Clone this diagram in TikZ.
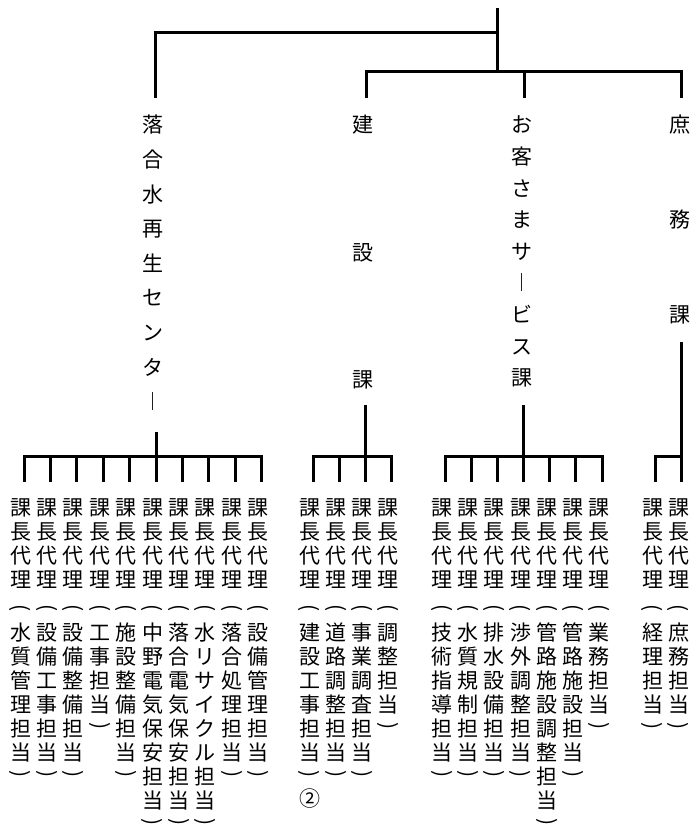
\documentclass[tikz,border=0pt]{standalone}
\usepackage{fontspec}
\newfontfamily\jp{Noto Sans CJK JP}
% #1 name, #2 x, #3 number of characters in the bracket, #4 characters
\newcommand\mkcol[4]{%
  \foreach \ch [count=\k from 0] in {課,長,代,理}
    \node[jc] (#1a\k) at ({#2},{508+24*\k}) {\ch};
  \node[jpar, rotate=-90] (#1p) at ({#2},608) {(};
  \foreach \ch [count=\k from 0] in {#4}
    \node[jc] (#1b\k) at ({#2},{633+24*\k}) {\ch};
  \node[jpar, rotate=-90] (#1q) at ({#2},{630+24*#3}) {)};
}
\newcommand\mklabel[5]{%
  \foreach \ch [count=\k from 0] in {#5}
    \node[jc] (#1\k) at ({#2},{#3+#4*\k}) {\ch};
}
\begin{document}
\begin{tikzpicture}[x=1pt,y=-1pt,
  ln/.style={line width=3pt, line cap=butt, line join=miter},
  jc/.style={font=\jp\fontsize{21}{24}\selectfont, inner sep=0pt,
    text height=18.48pt, text depth=2.52pt},
  jpar/.style={font=\jp\fontsize{21}{24}\selectfont, inner sep=0pt}]
\useasboundingbox (0,0) rectangle (696,832);

% ---------- top level labels ----------
\mklabel{dA}{153}{125}{34.6}{落,合,水,再,生,セ,ン,タ,︱}
\mklabel{dB}{363}{125}{127.5}{建,設,課}
\mklabel{dC}{522}{125}{31.6}{お,客,さ,ま,サ,︱,ビ,ス,課}
\mklabel{dD}{680}{125}{95}{庶,務,課}

% ---------- top level connectors ----------
\coordinate (root) at (497,8);
\coordinate (rA) at (497,33);
\coordinate (rB) at (497,72);
\coordinate (tA) at (155,98);
\coordinate (tB) at (366,98);
\coordinate (tC) at (524,98);
\coordinate (tD) at (681,98);
\draw[ln] (root) -- (rB);
\draw[ln] (tA) |- (rA);
\draw[ln] (tB) |- (rB) -| (tD);
\draw[ln] (tC) -- (tC |- rB);

% ---------- group 1 : 落合水再生センター ----------
\mkcol{g1c0}{20.5}{6}{水,質,管,理,担,当}
\mkcol{g1c1}{46.9}{6}{設,備,工,事,担,当}
\mkcol{g1c2}{73.3}{6}{設,備,整,備,担,当}
\mkcol{g1c3}{99.7}{4}{工,事,担,当}
\mkcol{g1c4}{126.1}{6}{施,設,整,備,担,当}
\mkcol{g1c5}{152.5}{8}{中,野,電,気,保,安,担,当}
\mkcol{g1c6}{178.9}{8}{落,合,電,気,保,安,担,当}
\mkcol{g1c7}{205.3}{8}{水,リ,サ,イ,ク,ル,担,当}
\mkcol{g1c8}{231.7}{6}{落,合,処,理,担,当}
\mkcol{g1c9}{258.1}{6}{設,備,管,理,担,当}
\coordinate (g1top) at (156,432);
\coordinate (g1bar) at (156,456);
\foreach \i in {0,...,9}
  \coordinate (g1e\i) at ({24+26.4*\i},482);
\draw[ln] (g1e0) |- (g1bar) -| (g1e9);
\foreach \i in {1,...,8}
  \draw[ln] (g1e\i) -- (g1e\i |- g1bar);
\draw[ln] (g1top) -- (g1bar);

% ---------- group 2 : 建設課 ----------
\mkcol{g2c0}{309.5}{6}{建,設,工,事,担,当}
\mkcol{g2c1}{335.8}{6}{道,路,調,整,担,当}
\mkcol{g2c2}{362.1}{6}{事,業,調,査,担,当}
\mkcol{g2c3}{388.4}{4}{調,整,担,当}
\node[jc] (circ2) at (309.5,799) {②};
\coordinate (g2top) at (365.6,405);
\coordinate (g2bar) at (365.6,456);
\foreach \i in {0,...,3}
  \coordinate (g2e\i) at ({313+26.3*\i},482);
\draw[ln] (g2e0) |- (g2bar) -| (g2e3);
\foreach \i in {1,2}
  \draw[ln] (g2e\i) -- (g2e\i |- g2bar);
\draw[ln] (g2top) -- (g2bar);

% ---------- group 3 : お客さまサービス課 ----------
\mkcol{g3c0}{442}{6}{技,術,指,導,担,当}
\mkcol{g3c1}{468.2}{6}{水,質,規,制,担,当}
\mkcol{g3c2}{494.3}{6}{排,水,設,備,担,当}
\mkcol{g3c3}{520.5}{6}{渉,外,調,整,担,当}
\mkcol{g3c4}{546.7}{8}{管,路,施,設,調,整,担,当}
\mkcol{g3c5}{572.8}{6}{管,路,施,設,担,当}
\mkcol{g3c6}{599}{4}{業,務,担,当}
\coordinate (g3top) at (523.5,405);
\coordinate (g3bar) at (523.5,456);
\foreach \i in {0,...,6}
  \coordinate (g3e\i) at ({445+26.17*\i},482);
\draw[ln] (g3e0) |- (g3bar) -| (g3e6);
\foreach \i in {1,...,5}
  \draw[ln] (g3e\i) -- (g3e\i |- g3bar);
\draw[ln] (g3top) -- (g3bar);

% ---------- group 4 : 庶務課 ----------
\mkcol{g4c0}{652.5}{4}{経,理,担,当}
\mkcol{g4c1}{678.5}{4}{庶,務,担,当}
\coordinate (g4top) at (681,342);
\coordinate (g4bar) at (681,456);
\coordinate (g4e0) at (655,482);
\coordinate (g4e1) at (681,482);
\draw[ln] (g4e0) |- (g4bar);
\draw[ln] (g4top) -- (g4e1);
\end{tikzpicture}
\end{document}
